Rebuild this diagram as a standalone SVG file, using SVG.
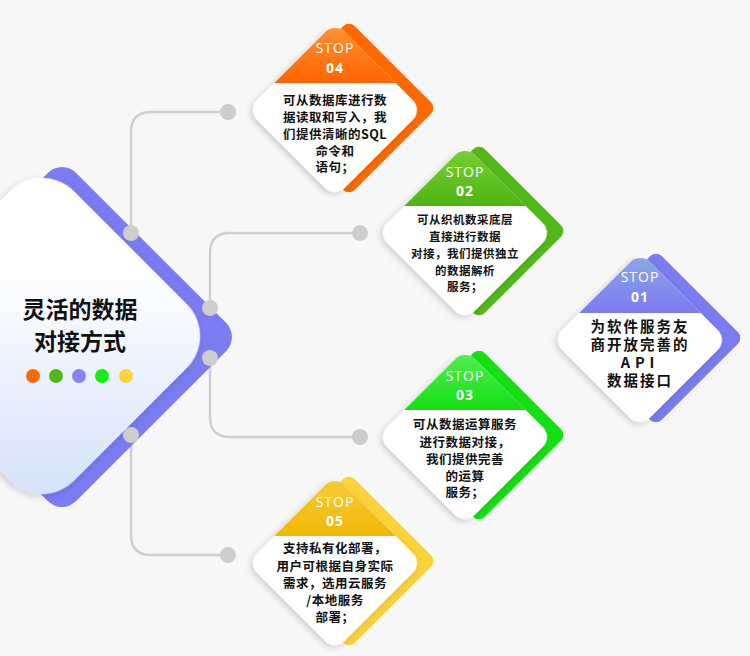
<svg xmlns="http://www.w3.org/2000/svg" width="750" height="656" viewBox="0 0 750 656">
<defs>
<style>
.ln{fill:none;stroke:#cfcfcf;stroke-width:2.5}
.dot{fill:#cdcdcd}
.stop{font-family:"Open Sans","Noto Sans",sans-serif;font-size:14px;fill:#fff;text-anchor:middle;letter-spacing:1px}
.num{font-family:"Open Sans","Noto Sans",sans-serif;font-size:14px;font-weight:bold;fill:#fff;text-anchor:middle;letter-spacing:1px}
.tx{font-family:"Noto Sans CJK SC",sans-serif;font-size:12.5px;font-weight:bold;fill:#111;text-anchor:middle;letter-spacing:0.5px}
.title{font-family:"Noto Sans CJK SC",sans-serif;font-size:23px;font-weight:bold;fill:#111;text-anchor:middle}
</style>
<clipPath id="dia"><rect x="-62" y="-62" width="124" height="124" rx="14" transform="rotate(45)"/></clipPath>
<filter id="sh" x="-20%" y="-20%" width="140%" height="140%"><feDropShadow dx="0" dy="3" stdDeviation="3" flood-color="#000" flood-opacity="0.18"/></filter>
<linearGradient id="gO" x1="0" y1="0" x2="0" y2="1"><stop offset="0" stop-color="#ff9a3c"/><stop offset="1" stop-color="#ff6400"/></linearGradient>
<linearGradient id="gG" x1="0" y1="0" x2="0" y2="1"><stop offset="0" stop-color="#7fd43a"/><stop offset="1" stop-color="#4fb514"/></linearGradient>
<linearGradient id="gP" x1="0" y1="0" x2="0" y2="1"><stop offset="0" stop-color="#8fb0e0"/><stop offset="1" stop-color="#7b7bf2"/></linearGradient>
<linearGradient id="gB" x1="0" y1="0" x2="0" y2="1"><stop offset="0" stop-color="#5ef05e"/><stop offset="1" stop-color="#14e014"/></linearGradient>
<linearGradient id="gY" x1="0" y1="0" x2="0" y2="1"><stop offset="0" stop-color="#f5d040"/><stop offset="1" stop-color="#f2b705"/></linearGradient>
<linearGradient id="gM" x1="0" y1="0" x2="1" y2="1"><stop offset="0.3" stop-color="#ffffff"/><stop offset="1" stop-color="#d3e0fb"/></linearGradient>
</defs>
<rect width="750" height="656" fill="#f7f7f7"/>
<g id="connectors">
<path class="ln" d="M228 112 H151 Q131 112 131 132 V535 Q131 555 151 555 H228"/>
<path class="ln" d="M360 233 H230 Q210 233 210 253 V417 Q210 437 230 437 H360"/>
</g>
<g id="main">
<rect x="-126" y="-126" width="252" height="252" rx="20" fill="#7b7bf2" transform="translate(62 337) rotate(45)"/>
<rect x="-125" y="-125" width="250" height="250" rx="45" fill="url(#gM)" filter="url(#sh)" transform="translate(42 336) rotate(45)"/>
<text class="title" x="80" y="318">灵活的数据</text>
<text class="title" x="80" y="350">对接方式</text>
<circle cx="33" cy="376" r="7" fill="#ff6a00"/>
<circle cx="56" cy="376" r="7" fill="#52b81a"/>
<circle cx="79" cy="376" r="7" fill="#8585f5"/>
<circle cx="102" cy="376" r="7" fill="#14ee14"/>
<circle cx="126" cy="376" r="7" fill="#fcd23a"/>
</g>
<g id="dots">
<circle class="dot" cx="131" cy="233" r="8"/><circle class="dot" cx="210" cy="308" r="8"/>
<circle class="dot" cx="210" cy="358" r="8"/><circle class="dot" cx="131" cy="435" r="8"/>
<circle class="dot" cx="228" cy="112" r="8"/><circle class="dot" cx="360" cy="233" r="8"/>
<circle class="dot" cx="360" cy="437" r="8"/><circle class="dot" cx="228" cy="555" r="8"/>
</g>
<g id="n04" transform="translate(335 110)">
<rect x="-62" y="-62" width="124" height="124" rx="8" fill="#ff6a00" transform="translate(14 -2) rotate(45)"/>
<rect x="-62" y="-62" width="124" height="124" rx="14" fill="#fff" filter="url(#sh)" transform="rotate(45)"/>
<rect x="-95" y="-95" width="190" height="68" fill="url(#gO)" clip-path="url(#dia)"/>
<text class="stop" y="-57">STOP</text><text class="num" y="-37">04</text>
<text class="tx" y="-5">可从数据库进行数</text><text class="tx" y="12">据读取和写入，我</text><text class="tx" y="29">们提供清晰的SQL</text><text class="tx" y="46">命令和</text><text class="tx" y="62">语句；</text>
</g>
<g id="n02" transform="translate(465 233)">
<rect x="-62" y="-62" width="124" height="124" rx="8" fill="#52b81a" transform="translate(14 -2) rotate(45)"/>
<rect x="-62" y="-62" width="124" height="124" rx="14" fill="#fff" filter="url(#sh)" transform="rotate(45)"/>
<rect x="-95" y="-95" width="190" height="68" fill="url(#gG)" clip-path="url(#dia)"/>
<text class="stop" y="-56">STOP</text><text class="num" y="-37">02</text>
<text class="tx" y="-9" style="font-size:11.5px">可从织机数采底层</text><text class="tx" y="8" style="font-size:11.5px">直接进行数据</text><text class="tx" y="25" style="font-size:11.5px">对接，我们提供独立</text><text class="tx" y="42" style="font-size:11.5px">的数据解析</text><text class="tx" y="58" style="font-size:11.5px">服务；</text>
</g>
<g id="n01" transform="translate(640 340)">
<rect x="-62" y="-62" width="124" height="124" rx="8" fill="#7b7bf2" transform="translate(16 -2) rotate(45)"/>
<rect x="-62" y="-62" width="124" height="124" rx="14" fill="#fff" filter="url(#sh)" transform="rotate(45)"/>
<rect x="-95" y="-95" width="190" height="68" fill="url(#gP)" clip-path="url(#dia)"/>
<text class="stop" y="-58">STOP</text><text class="num" y="-38">01</text>
<text class="tx" y="-8" style="font-size:14.5px;letter-spacing:2px">为软件服务友</text><text class="tx" y="10" style="font-size:14.5px;letter-spacing:2px">商开放完善的</text><text class="tx" y="28" style="font-size:14.5px;letter-spacing:5px">API</text><text class="tx" y="46" style="font-size:14.5px;letter-spacing:2px">数据接口</text>
</g>
<g id="n03" transform="translate(465 437)">
<rect x="-62" y="-62" width="124" height="124" rx="8" fill="#14e014" transform="translate(14 -2) rotate(45)"/>
<rect x="-62" y="-62" width="124" height="124" rx="14" fill="#fff" filter="url(#sh)" transform="rotate(45)"/>
<rect x="-95" y="-95" width="190" height="68" fill="url(#gB)" clip-path="url(#dia)"/>
<text class="stop" y="-56">STOP</text><text class="num" y="-37">03</text>
<text class="tx" y="-8">可从数据运算服务</text><text class="tx" y="10">进行数据对接，</text><text class="tx" y="27">我们提供完善</text><text class="tx" y="44">的运算</text><text class="tx" y="60">服务；</text>
</g>
<g id="n05" transform="translate(335 563)">
<rect x="-62" y="-62" width="124" height="124" rx="8" fill="#fcd23a" transform="translate(14 -2) rotate(45)"/>
<rect x="-62" y="-62" width="124" height="124" rx="14" fill="#fff" filter="url(#sh)" transform="rotate(45)"/>
<rect x="-95" y="-95" width="190" height="68" fill="url(#gY)" clip-path="url(#dia)"/>
<text class="stop" y="-56">STOP</text><text class="num" y="-37">05</text>
<text class="tx" y="-10">支持私有化部署，</text><text class="tx" y="8">用户可根据自身实际</text><text class="tx" y="25">需求，选用云服务</text><text class="tx" y="42">/本地服务</text><text class="tx" y="59">部署；</text>
</g>
</svg>
